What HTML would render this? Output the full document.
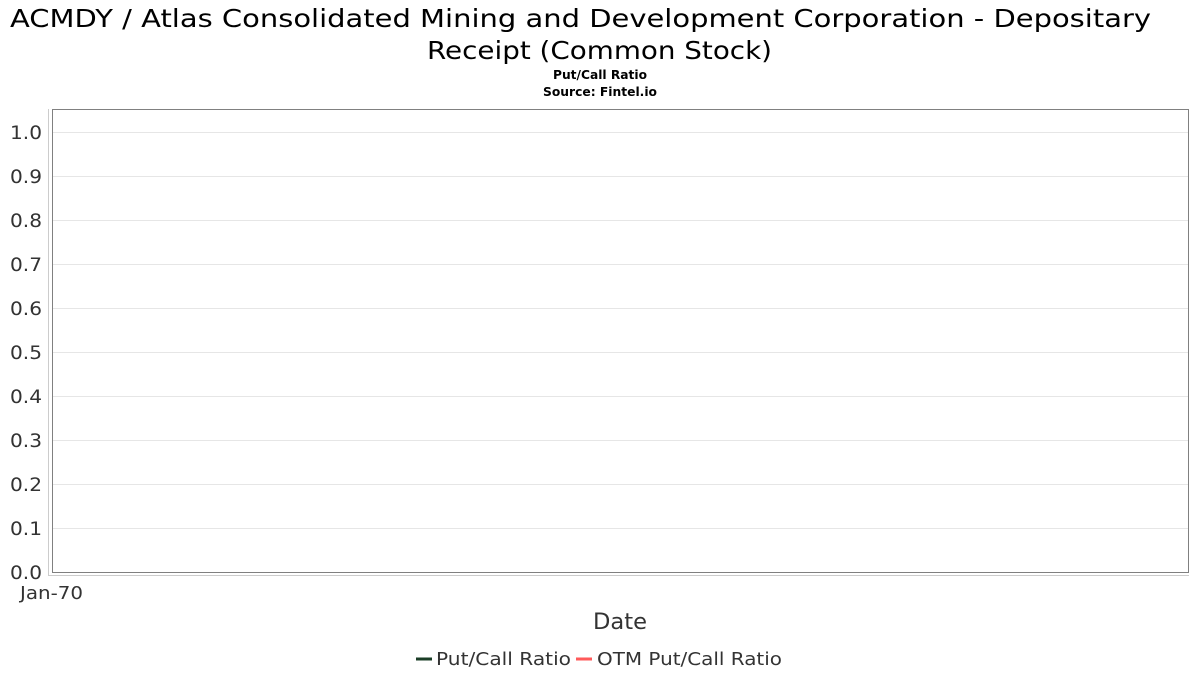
<!DOCTYPE html>
<html><head><meta charset="utf-8"><style>
body{margin:0;background:#fff;width:1200px;height:675px;overflow:hidden;font-family:"DejaVu Sans","Liberation Sans",sans-serif;}
svg text{font-family:"DejaVu Sans","Liberation Sans",sans-serif;}
</style></head><body>
<svg width="1200" height="675">
<text x="10" y="27" font-size="25" textLength="1141" lengthAdjust="spacingAndGlyphs" fill="#000">ACMDY / Atlas Consolidated Mining and Development Corporation - Depositary</text>
<text x="427" y="59" font-size="25" textLength="345" lengthAdjust="spacingAndGlyphs" fill="#000">Receipt (Common Stock)</text>
<text x="553" y="79" font-size="12" font-weight="bold" textLength="94" lengthAdjust="spacingAndGlyphs">Put/Call Ratio</text>
<text x="543" y="96" font-size="12" font-weight="bold" textLength="114" lengthAdjust="spacingAndGlyphs">Source: Fintel.io</text>
<rect x="52.5" y="109.5" width="1136" height="463" fill="#fff" stroke="#808080"/>
<g id="grid"></g>
<line x1="48.5" y1="109" x2="48.5" y2="576" stroke="#ccc"/>
<line x1="48" y1="575.5" x2="1189" y2="575.5" stroke="#ccc"/>
<text x="20" y="599" font-size="18" textLength="63" lengthAdjust="spacingAndGlyphs" fill="#333">Jan-70</text>
<text x="593" y="629" font-size="22" textLength="54" lengthAdjust="spacingAndGlyphs" fill="#333">Date</text>
<g>
<line x1="416" y1="659" x2="432" y2="659" stroke="#1a3d26" stroke-width="3"/>
<text x="436" y="665" font-size="18" textLength="135" lengthAdjust="spacingAndGlyphs" fill="#333">Put/Call Ratio</text>
<line x1="576" y1="659" x2="592" y2="659" stroke="#ff5a5a" stroke-width="3"/>
<text x="597" y="665" font-size="18" textLength="185" lengthAdjust="spacingAndGlyphs" fill="#333">OTM Put/Call Ratio</text>
</g>
</svg>
<script>
const yTicks=[0,0.1,0.2,0.3,0.4,0.5,0.6,0.7,0.8,0.9,1.0];
const yTickLabels=["0.0","0.1","0.2","0.3","0.4","0.5","0.6","0.7","0.8","0.9","1.0"];
const putCall=[];
const otmPutCall=[];
const y=v=>572-v*440;
const g=document.getElementById('grid');
const ns='http://www.w3.org/2000/svg';
yTicks.forEach((t,i)=>{
  if(t>0){
    const l=document.createElementNS(ns,'line');
    
    
    l.setAttribute('x1',53);l.setAttribute('x2',1188);
    l.setAttribute('y1',y(t)+0.5);l.setAttribute('y2',y(t)+0.5);
    l.setAttribute('stroke','#e6e6e6');
    g.appendChild(l);
  }
  const tx=document.createElementNS(ns,'text');
  
  
  tx.setAttribute('x',10);tx.setAttribute('y',y(t)+7);
  tx.setAttribute('font-size','19');tx.setAttribute('fill','#333');
  tx.setAttribute('textLength','32');tx.setAttribute('lengthAdjust','spacingAndGlyphs');
  tx.textContent=yTickLabels[i];
  g.appendChild(tx);
});
</script>
</body></html>
